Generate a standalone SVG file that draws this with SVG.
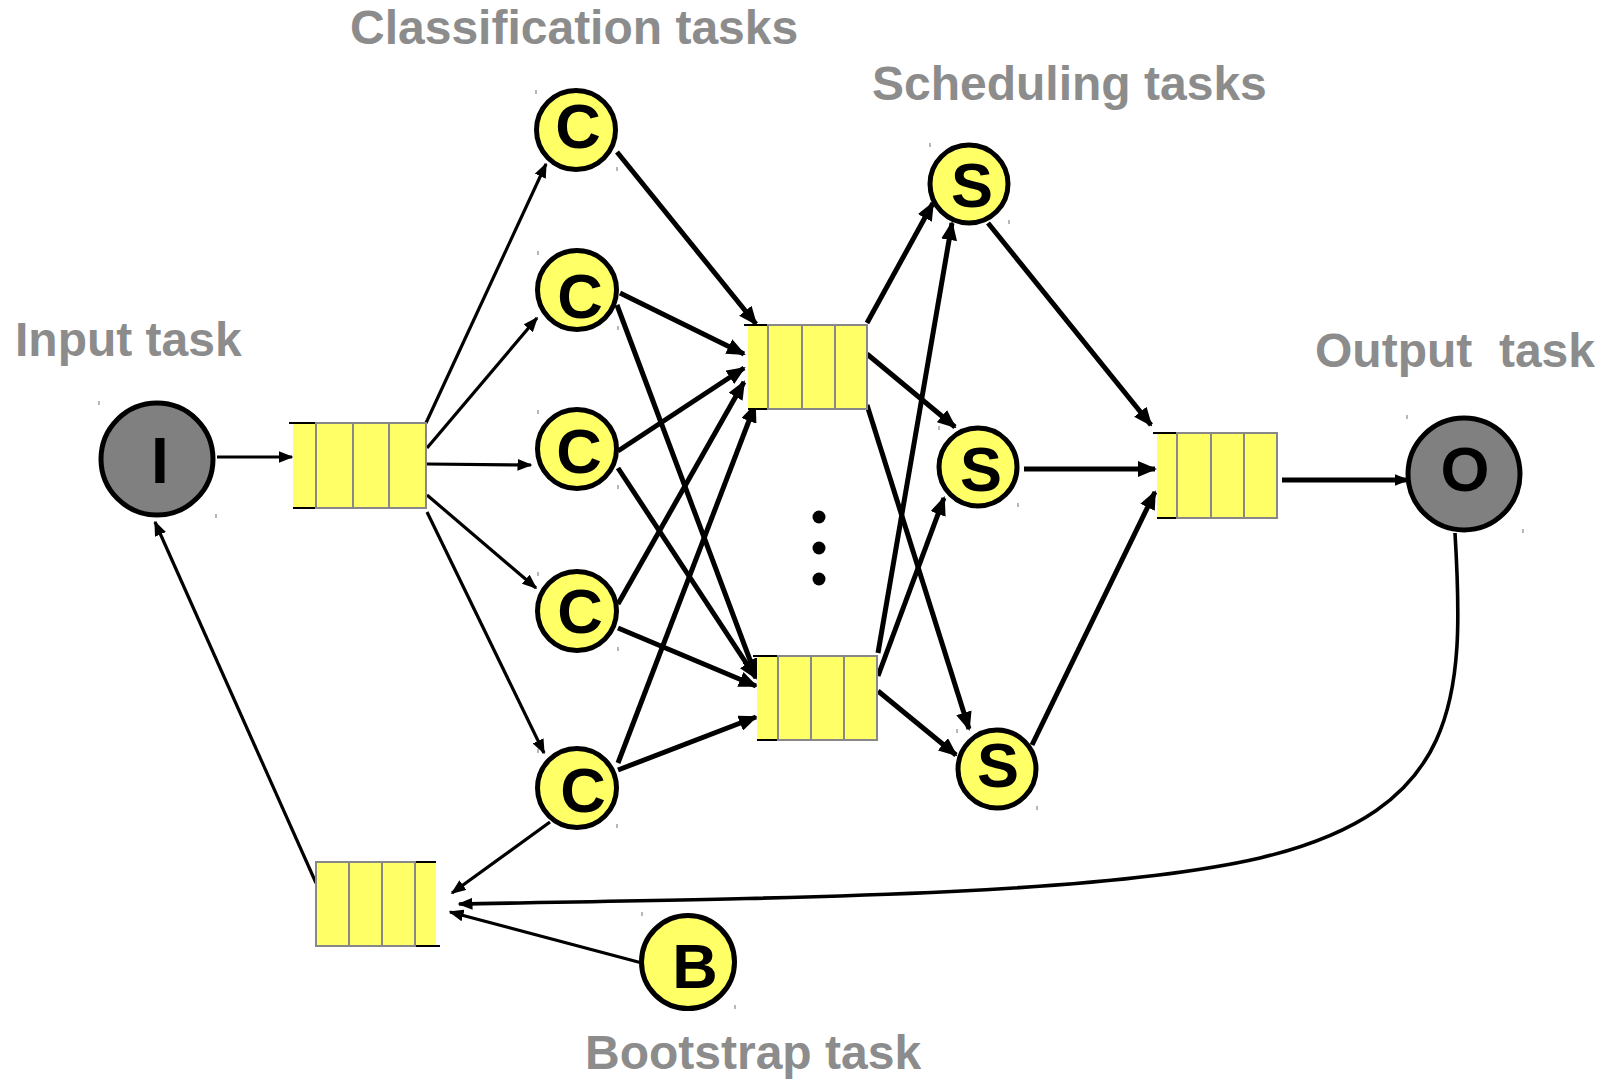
<svg xmlns="http://www.w3.org/2000/svg" width="1606" height="1080" viewBox="0 0 1606 1080">
<style>
.lbl{font-family:"Liberation Sans",Arial,sans-serif;font-weight:bold;font-size:48px;fill:#8c8c8c}
.let{font-family:"Liberation Sans",Arial,sans-serif;font-weight:bold;font-size:63px;fill:#000;text-anchor:middle}
.y{fill:#ffff66;stroke:#000;stroke-width:5}
.g{fill:#808080;stroke:#000;stroke-width:5}
.q{fill:#ffff66;stroke:#888;stroke-width:2}
.qn{fill:#ffff66}
.qb{stroke:#000;stroke-width:2}
.tk{stroke:#888;stroke-width:1.2}
.e{fill:none;stroke:#000;stroke-width:5;marker-end:url(#ab)}
.t{fill:none;stroke:#000;stroke-width:3.2;marker-end:url(#as)}
</style>
<defs>
<marker id="ab" markerUnits="userSpaceOnUse" markerWidth="19" markerHeight="16" refX="17" refY="8" orient="auto"><path d="M0,0 L19,8 L0,16 z" fill="#000"/></marker>
<marker id="as" markerUnits="userSpaceOnUse" markerWidth="15" markerHeight="12" refX="13.5" refY="6" orient="auto"><path d="M0,0 L15,6 L0,12 z" fill="#000"/></marker>
</defs>
<rect width="1606" height="1080" fill="#fff"/>

<g id="labels">
<text class="lbl" x="350" y="44">Classification tasks</text>
<text class="lbl" x="872" y="100">Scheduling tasks</text>
<text class="lbl" x="15" y="356">Input task</text>
<text class="lbl" x="1315" y="367" xml:space="preserve">Output  task</text>
<text class="lbl" x="585" y="1069">Bootstrap task</text>
</g>

<g id="connectors">
<line class="t" x1="217" y1="457" x2="292" y2="457"/>
<line class="t" x1="426" y1="423" x2="546" y2="164"/>
<line class="t" x1="427" y1="448" x2="537" y2="318"/>
<line class="t" x1="427" y1="464" x2="531" y2="465"/>
<line class="t" x1="427" y1="495" x2="536" y2="588"/>
<line class="t" x1="427" y1="512" x2="544" y2="753"/>
<line class="e" x1="617" y1="152" x2="756" y2="324"/>
<line class="e" x1="620" y1="293" x2="744" y2="354"/>
<line class="e" x1="617" y1="305" x2="756" y2="676"/>
<line class="e" x1="618" y1="451" x2="744" y2="368"/>
<line class="e" x1="618" y1="468" x2="756" y2="678"/>
<line class="e" x1="618" y1="604" x2="744" y2="382"/>
<line class="e" x1="618" y1="628" x2="756" y2="686"/>
<line class="e" x1="618" y1="763" x2="755" y2="405"/>
<line class="e" x1="618" y1="770" x2="756" y2="717"/>
<line class="t" x1="550" y1="822" x2="452" y2="893"/>
<line class="e" x1="867" y1="323" x2="933" y2="203"/>
<line class="e" x1="867" y1="354" x2="955" y2="427"/>
<line class="e" x1="867" y1="405" x2="969" y2="729"/>
<line class="e" x1="878" y1="653" x2="952" y2="223"/>
<line class="e" x1="878" y1="676" x2="944" y2="498"/>
<line class="e" x1="878" y1="691" x2="956" y2="755"/>
<line class="e" x1="988" y1="223" x2="1151" y2="425"/>
<line class="e" x1="1024" y1="469" x2="1155" y2="469"/>
<line class="e" x1="1032" y1="745" x2="1155" y2="492"/>
<line class="t" x1="1282" y1="480" x2="1408" y2="480" style="stroke-width:4.8"/>
<path class="t" d="M1455,533 C1465,700 1460,810 1260,858 C1100,895 800,898 459,904" style="stroke-width:3.6"/>
<line class="t" x1="642" y1="963" x2="450" y2="912"/>
<line class="t" x1="316" y1="883" x2="155" y2="522"/>
</g>

<g id="q1">
<rect class="qn" x="293" y="423" width="24" height="85"/>
<line class="qb" x1="289" y1="423" x2="317" y2="423"/><line class="qb" x1="293" y1="508" x2="317" y2="508"/>
<rect class="q" x="316" y="423" width="110" height="85"/>
<line class="q" x1="353" y1="423" x2="353" y2="508"/><line class="q" x1="389" y1="423" x2="389" y2="508"/>
</g>
<g id="q2">
<rect class="qn" x="748" y="325" width="21" height="84"/>
<line class="qb" x1="744" y1="325" x2="769" y2="325"/><line class="qb" x1="748" y1="409" x2="769" y2="409"/>
<rect class="q" x="768" y="325" width="99" height="84"/>
<line class="q" x1="802" y1="325" x2="802" y2="409"/><line class="q" x1="835" y1="325" x2="835" y2="409"/>
</g>
<g id="q3">
<rect class="qn" x="757" y="656" width="22" height="84"/>
<line class="qb" x1="753" y1="656" x2="779" y2="656"/><line class="qb" x1="757" y1="740" x2="779" y2="740"/>
<rect class="q" x="778" y="656" width="99" height="84"/>
<line class="q" x1="811" y1="656" x2="811" y2="740"/><line class="q" x1="844" y1="656" x2="844" y2="740"/>
</g>
<g id="q4">
<rect class="qn" x="1157" y="433" width="21" height="85"/>
<line class="qb" x1="1153" y1="433" x2="1178" y2="433"/><line class="qb" x1="1157" y1="518" x2="1178" y2="518"/>
<rect class="q" x="1177" y="433" width="100" height="85"/>
<line class="q" x1="1211" y1="433" x2="1211" y2="518"/><line class="q" x1="1244" y1="433" x2="1244" y2="518"/>
</g>
<g id="q5">
<rect class="qn" x="414" y="862" width="22" height="84"/>
<line class="qb" x1="414" y1="862" x2="436" y2="862"/><line class="qb" x1="414" y1="946" x2="440" y2="946"/>
<rect class="q" x="316" y="862" width="99" height="84"/>
<line class="q" x1="349" y1="862" x2="349" y2="946"/><line class="q" x1="382" y1="862" x2="382" y2="946"/>
</g>

<g id="nI"><circle class="g" cx="157" cy="459" r="56"/><text class="let" x="160" y="483" style="font-size:64px">I</text>
<line class="tk" x1="99" y1="401" x2="99" y2="405"/><line class="tk" x1="216" y1="514" x2="216" y2="518"/></g>
<g id="nO"><circle class="g" cx="1464" cy="474" r="56"/><text class="let" x="1465" y="491">O</text>
<line class="tk" x1="1407" y1="415" x2="1407" y2="419"/><line class="tk" x1="1523" y1="529" x2="1523" y2="533"/></g>
<g id="c1"><circle class="y" cx="576" cy="130" r="39.5"/><text class="let" x="578" y="148">C</text>
<line class="tk" x1="536" y1="90" x2="536" y2="94"/><line class="tk" x1="617" y1="167" x2="617" y2="171"/></g>
<g id="c2"><circle class="y" cx="577" cy="290" r="39.5"/><text class="let" x="580" y="318">C</text>
<line class="tk" x1="538" y1="251" x2="538" y2="255"/><line class="tk" x1="618" y1="326" x2="618" y2="330"/></g>
<g id="c3"><circle class="y" cx="577" cy="449" r="39.5"/><text class="let" x="579" y="473">C</text>
<line class="tk" x1="538" y1="410" x2="538" y2="414"/><line class="tk" x1="618" y1="485" x2="618" y2="489"/></g>
<g id="c4"><circle class="y" cx="577" cy="611" r="39.5"/><text class="let" x="580" y="633">C</text>
<line class="tk" x1="538" y1="572" x2="538" y2="576"/><line class="tk" x1="618" y1="647" x2="618" y2="651"/></g>
<g id="c5"><circle class="y" cx="577" cy="788" r="39.5"/><text class="let" x="583" y="812">C</text>
<line class="tk" x1="538" y1="749" x2="538" y2="753"/><line class="tk" x1="617" y1="824" x2="617" y2="828"/></g>
<g id="s1"><circle class="y" cx="969" cy="184" r="39"/><text class="let" x="972" y="207">S</text>
<line class="tk" x1="930" y1="143" x2="930" y2="147"/><line class="tk" x1="1009" y1="220" x2="1009" y2="224"/></g>
<g id="s2"><circle class="y" cx="978" cy="467" r="39"/><text class="let" x="981" y="491">S</text>
<line class="tk" x1="939" y1="426" x2="939" y2="430"/><line class="tk" x1="1018" y1="503" x2="1018" y2="507"/></g>
<g id="s3"><circle class="y" cx="997" cy="769" r="39"/><text class="let" x="998" y="787">S</text>
<line class="tk" x1="957" y1="729" x2="957" y2="733"/><line class="tk" x1="1037" y1="806" x2="1037" y2="810"/></g>
<g id="b"><circle class="y" cx="688" cy="962" r="46.5"/><text class="let" x="695" y="988">B</text>
<line class="tk" x1="642" y1="912" x2="642" y2="916"/><line class="tk" x1="735" y1="1005" x2="735" y2="1009"/></g>

<g id="dots"><circle cx="819" cy="517" r="6.5"/><circle cx="819" cy="548" r="6.5"/><circle cx="819" cy="579" r="6.5"/></g>
</svg>
